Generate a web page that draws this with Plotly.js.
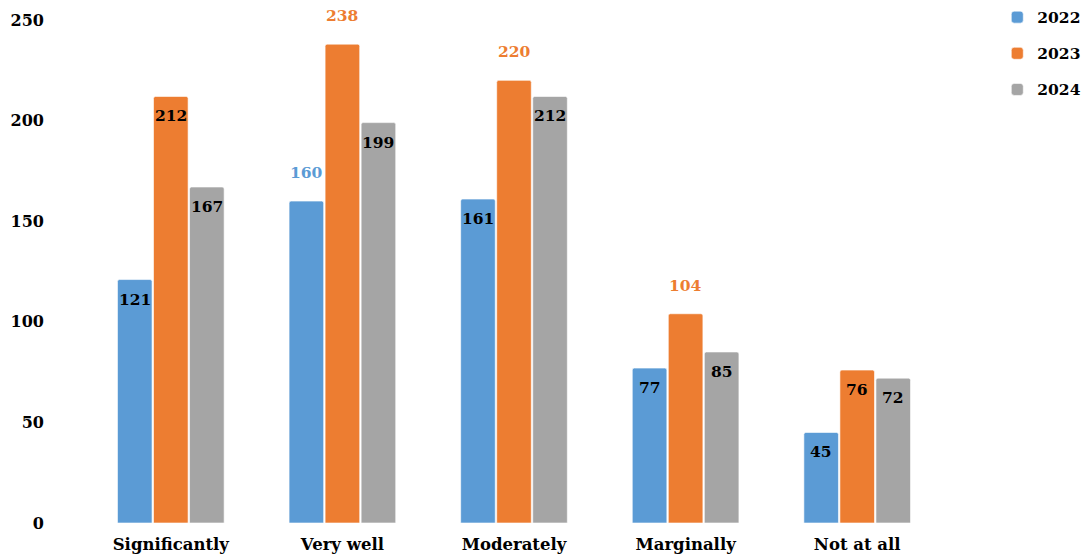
<!DOCTYPE html>
<html>
<head>
<meta charset="utf-8">
<script src="https://cdn.plot.ly/plotly-3.0.1.min.js"></script>
<style>html,body{margin:0;padding:0;background:#fff;}#chart{width:1084px;height:554px;}</style>
</head>
<body>
<div id="chart"></div>
<script>
const categories = ["Significantly", "Very well", "Moderately", "Marginally", "Not at all"];
const years = ["2022", "2023", "2024"];
const values2022 = [121, 160, 161, 77, 45];
const values2023 = [212, 238, 220, 104, 76];
const values2024 = [167, 199, 212, 85, 72];
// which labels sit above the bar (coloured like the bar) instead of inside it
const outside2022 = [false, true, false, false, false];
const outside2023 = [false, true, true, true, false];
const outside2024 = [false, false, false, false, false];
const yTicks = [0, 50, 100, 150, 200, 250];

const colors = ["#5B9BD5", "#ED7D31", "#A5A5A5"];
const FONT = "DejaVu Serif, Georgia, serif";
const series = [values2022, values2023, values2024];
const outs = [outside2022, outside2023, outside2024];

const traces = series.map((vals, i) => ({
  type: "bar",
  name: years[i],
  legendgroup: years[i],
  x: categories,
  y: vals,
  marker: {color: colors[i], line: {color: "rgba(255,255,255,0.6)", width: 1}},
  hoverinfo: "x+y"
}));

const slot = 36;
const annotations = [];
series.forEach((vals, i) => {
  vals.forEach((v, j) => {
    const out = outs[i][j];
    annotations.push({
      x: categories[j], y: v, xref: "x", yref: "y",
      text: String(v), showarrow: false,
      xshift: (i - 1) * slot,
      yanchor: out ? "bottom" : "top",
      yshift: out ? 17 : -8,
      font: {family: FONT, size: 15.5, color: out ? colors[i] : "#000", weight: "bold"}
    });
  });
});

const layout = {
  width: 1084, height: 554,
  margin: {l: 85, r: 141, t: 20, b: 31, autoexpand: false},
  paper_bgcolor: "#fff", plot_bgcolor: "#fff",
  barmode: "group", bargap: 0.37, bargroupgap: 0.04,
  barcornerradius: 2,
  font: {family: FONT, color: "#000"},
  xaxis: {
    showline: false, showgrid: false, zeroline: false, automargin: false,
    tickfont: {family: FONT, size: 16.5, color: "#000", weight: "bold"},
    ticklabelstandoff: 9
  },
  yaxis: {
    range: [0, 250], tickvals: yTicks, showgrid: false, zeroline: false, showline: false, automargin: false,
    tickfont: {family: FONT, size: 16, color: "#000", weight: "bold"},
    ticklabelstandoff: 40
  },
  legend: {
    xref: "container", yref: "container",
    x: 0.92, xanchor: "left", y: 0.999, yanchor: "top",
    traceorder: "grouped", tracegroupgap: 13,
    font: {family: FONT, size: 15.5, color: "#000", weight: "bold"}
  },
  annotations: annotations,
  showlegend: true
};

Plotly.newPlot("chart", traces, layout, {displayModeBar: false, staticPlot: true});
</script>
</body>
</html>
